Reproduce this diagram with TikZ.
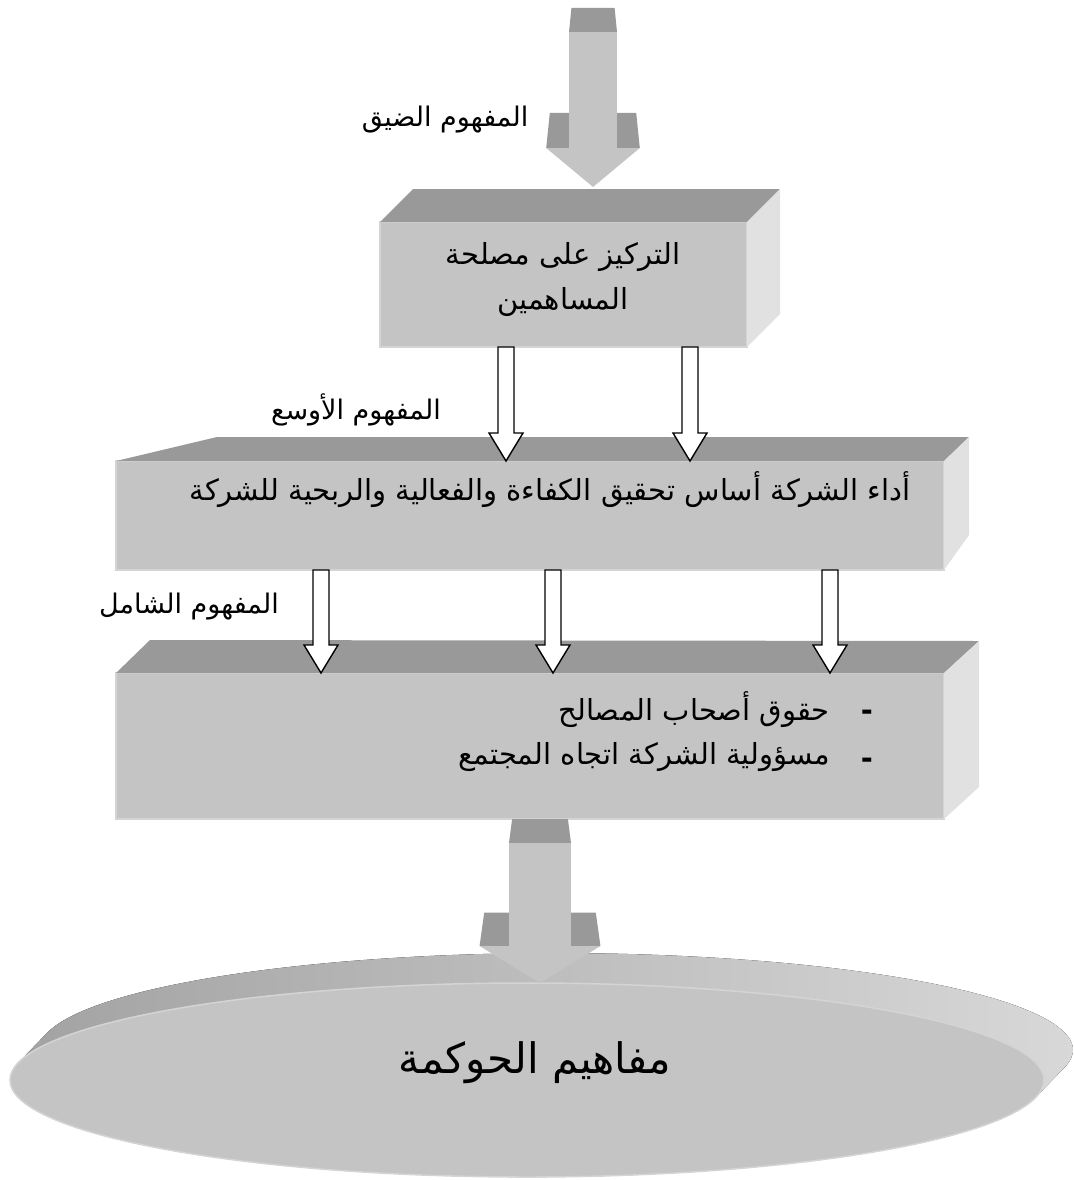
\documentclass[tikz,border=0pt]{standalone}
\usepackage{fontspec}
\newfontfamily\arabicfont[Script=Arabic]{DejaVu Sans}
\TeXXeTstate=1
\usepackage{xcolor}
\usepackage{tikz}
\usetikzlibrary{calc,shapes.geometric}
\definecolor{facegray}{RGB}{196,196,196}
\definecolor{topgray}{RGB}{153,153,153}
\definecolor{sidegray}{RGB}{225,225,225}
\definecolor{edgegray}{RGB}{212,212,212}
\definecolor{rimgray}{RGB}{160,160,160}
\definecolor{rimlight}{RGB}{218,218,218}

\begin{document}
\begin{tikzpicture}[x=1pt,y=-1pt,
                    face/.style={rectangle,fill=facegray,draw=edgegray,line width=1.5pt,
                    inner sep=0pt,outer sep=0pt},
                    topface/.style={fill=topgray},
                    sideface/.style={fill=sidegray},
                    hollow/.style={fill=white,draw=black,line width=1.4pt,line join=miter},
                    shaftface/.style={fill=facegray},
                    lbl/.style={inner sep=0pt,font=\arabicfont\fontsize{27}{45}\selectfont},
                    txt/.style={inner sep=0pt,align=center,font=\arabicfont\fontsize{29}{45}\selectfont}]
    \useasboundingbox (0,0) rectangle (1073,1180);

    % boxes
    \node[face,minimum width=367pt,minimum height=125pt](b1) at (563.5,284.5) {};
    \node[face,minimum width=828pt,minimum height=109pt](b2) at (530,515.5) {};
    \node[face,minimum width=828pt,minimum height=146pt](b3) at (530,746) {};
    \fill[topface] (b1.north west) -- ++(33,-33) -- ($(b1.north east)+(33,-33)$) -- (b1.north east) -- cycle;
    \fill[sideface] (b1.north east) -- ++(33,-33) -- ($(b1.south east)+(33,-33)$) -- (b1.south east) -- cycle;
    \fill[topface] (b2.north west) -- ++(101,-24) -- ($(b2.north east)+(25,-24)$) -- (b2.north east) -- cycle;
    \fill[sideface] (b2.north east) -- ++(25,-24) -- ($(b2.south east)+(25,-35)$) -- (b2.south east) -- cycle;
    \fill[topface] (b3.north west) -- ++(34,-33) -- ($(b3.north east)+(35,-32)$) -- (b3.north east) -- cycle;
    \fill[sideface] (b3.north east) -- ++(35,-32) -- ($(b3.south east)+(35,-32)$) -- (b3.south east) -- cycle;

    \node[txt](t1) at (563,280) {\beginR التركيز على مصلحة\endR\\\beginR المساهمين\endR};
    \node[txt](t2) at (550,490) {\beginR أداء الشركة أساس تحقيق الكفاءة والفعالية والربحية للشركة\endR};
    \node[txt,anchor=east](t3a) at (830,710) {\beginR حقوق أصحاب المصالح\endR};
    \node[txt,anchor=east](t3b) at (830,757) {\beginR مسؤولية الشركة اتجاه المجتمع\endR};
    \node[txt,font=\arabicfont\bfseries\fontsize{29}{45}\selectfont](d1) at (867,715) {-};
    \node[txt,font=\arabicfont\bfseries\fontsize{29}{45}\selectfont](d2) at (867,763) {-};

    \node[lbl](l1) at (445,120) {\beginR المفهوم الضيق\endR};
    \node[lbl](l2) at (356,410) {\beginR المفهوم الأوسع\endR};
    \node[lbl](l3) at (189,607) {\beginR المفهوم الشامل\endR};

    % hollow arrows between the boxes
    \foreach \from/\to/\xs in {b1/b2/{506,690},b2/b3/{321,553,830}}
        \foreach \x in \xs {
            \coordinate (s) at (\x,0 |- \from.south);
            \coordinate (t) at (\x,0 |- \to.north);
            \draw[hollow] ($(s)+(-8,0)$) -- ($(t)+(-8,-28)$) -- ($(t)+(-17,-28)$) -- (t)
                -- ($(t)+(17,-28)$) -- ($(t)+(8,-28)$) -- ($(s)+(8,0)$) -- cycle;
        }

    % disc
    \coordinate (govc) at (527,1080);
    \fill[left color=rimgray,middle color=rimgray!92!white,right color=rimlight]
        ($(govc)+(-508.7,-17.3)$) -- ++(29,-30)
        arc[start angle=169.7,end angle=-10.3,x radius=517pt,y radius=97pt] -- ++(-29,30)
        arc[start angle=-10.3,end angle=-190.3,x radius=517pt,y radius=97pt] -- cycle;
    \node[ellipse,fill=facegray,draw=edgegray,line width=1.5pt,inner sep=0pt,outer sep=0pt,
          minimum width=1034pt,minimum height=194pt](gov) at (govc) {};
    \node[inner sep=0pt,font=\arabicfont\fontsize{42}{48}\selectfont](govtxt) at (535,1063) {\beginR مفاهيم الحوكمة\endR};

    % big arrows
    \coordinate (in) at (593,8);
    \coordinate (b1-top) at ($(b1.north)+(29.5,-35)$);
    \coordinate (gov-top) at (540,0 |- gov.north);
    \coordinate (b3-out) at (gov-top |- b3.south);
    \foreach \s/\t/\w/\h in {in/b1-top/24/39,b3-out/gov-top/31/37} {
        \fill[topface] ($(\s)+(-0.9*\w,0)$) -- ($(\s)+(0.9*\w,0)$) -- ($(\s)+(\w,24)$) -- ($(\s)+(-\w,24)$) -- cycle;
        \fill[topface] ($(\t)+(-1.8*\w,-1.9*\h)$) -- ($(\t)+(1.8*\w,-1.9*\h)$)
            -- ($(\t)+(1.95*\w,-\h)$) -- ($(\t)+(-1.95*\w,-\h)$) -- cycle;
        \fill[shaftface] ($(\s)+(-\w,24)$) rectangle ($(\t)+(\w,-\h)$);
        \fill[shaftface] ($(\t)+(-1.95*\w,-\h)$) -- ($(\t)+(1.95*\w,-\h)$) -- (\t) -- cycle;
    }
\end{tikzpicture}
\end{document}
